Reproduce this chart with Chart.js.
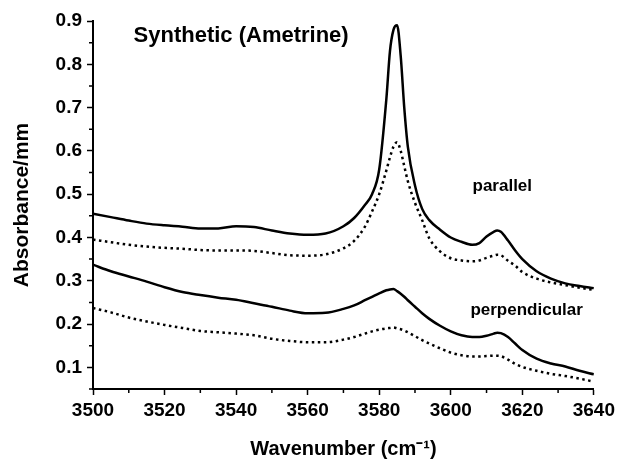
<!DOCTYPE html>
<html>
<head>
<meta charset="utf-8">
<script src="https://cdn.jsdelivr.net/npm/chart.js@4.4.1/dist/chart.umd.min.js"></script>
<style>
  html, body { margin: 0; padding: 0; background: #fff; }
  #wrap { width: 619px; height: 461px; }
</style>
</head>
<body>
<div id="wrap"><canvas id="chart1"></canvas></div>
<script>
// wavenumber (cm-1)
var wavenumbers = [3500, 3505, 3510, 3515, 3520, 3525, 3530, 3535, 3540, 3545, 3550, 3555, 3560, 3565, 3570, 3573, 3576, 3578, 3580, 3582, 3583, 3584, 3585, 3586, 3587, 3588, 3590, 3592, 3594, 3597, 3600, 3603, 3606, 3608, 3610, 3612, 3613, 3614, 3616, 3618, 3620, 3624, 3628, 3632, 3636, 3640];

var parallelSolid = [0.455, 0.447, 0.439, 0.432, 0.428, 0.425, 0.421, 0.421, 0.426, 0.424, 0.416, 0.409, 0.406, 0.409, 0.426, 0.445, 0.475, 0.50, 0.557, 0.72, 0.83, 0.88, 0.89, 0.82, 0.70, 0.61, 0.52, 0.466, 0.44, 0.418, 0.40, 0.39, 0.383, 0.387, 0.402, 0.413, 0.416, 0.413, 0.393, 0.37, 0.35, 0.322, 0.305, 0.294, 0.288, 0.283];
var parallelDotted = [0.395, 0.389, 0.383, 0.379, 0.376, 0.374, 0.371, 0.370, 0.370, 0.369, 0.364, 0.359, 0.358, 0.361, 0.375, 0.392, 0.425, 0.46, 0.50, 0.555, 0.585, 0.61, 0.62, 0.60, 0.565, 0.53, 0.48, 0.44, 0.398, 0.368, 0.352, 0.347, 0.345, 0.347, 0.353, 0.358, 0.360, 0.359, 0.346, 0.335, 0.32, 0.305, 0.296, 0.290, 0.284, 0.279];
var perpSolid = [0.337, 0.322, 0.310, 0.298, 0.285, 0.274, 0.267, 0.261, 0.256, 0.248, 0.240, 0.231, 0.225, 0.226, 0.235, 0.243, 0.255, 0.263, 0.271, 0.278, 0.280, 0.281, 0.276, 0.270, 0.263, 0.255, 0.240, 0.225, 0.212, 0.196, 0.183, 0.174, 0.170, 0.170, 0.173, 0.178, 0.180, 0.179, 0.170, 0.155, 0.140, 0.120, 0.109, 0.102, 0.092, 0.084];
var perpDotted = [0.237, 0.227, 0.215, 0.206, 0.198, 0.191, 0.184, 0.181, 0.178, 0.174, 0.166, 0.161, 0.158, 0.158, 0.164, 0.170, 0.178, 0.183, 0.187, 0.190, 0.191, 0.192, 0.190, 0.188, 0.185, 0.181, 0.172, 0.163, 0.155, 0.144, 0.134, 0.128, 0.125, 0.125, 0.126, 0.127, 0.127, 0.126, 0.118, 0.108, 0.101, 0.092, 0.085, 0.080, 0.074, 0.067];

var xTicks = [3500, 3520, 3540, 3560, 3580, 3600, 3620, 3640];
var yTicks = [0.1, 0.2, 0.3, 0.4, 0.5, 0.6, 0.7, 0.8, 0.9];

var labels = [
    { text: "Synthetic (Ametrine)", x: 3541.4, y: 0.866, size: 22 },
    { text: "parallel", x: 3614.4, y: 0.518, size: 17 },
    { text: "perpendicular", x: 3621.2, y: 0.231, size: 17 }
];

var FONT = "'Liberation Sans', Arial, sans-serif";

function pts(ys) {
    return wavenumbers.map(function (x, i) { return { x: x, y: ys[i] }; });
}

// short minor ticks between the major ones + text labels
var extras = {
    id: 'extras',
    afterDraw: function (chart) {
        var ctx = chart.ctx;
        var xs = chart.scales.x, ys = chart.scales.y;
        ctx.save();
        ctx.strokeStyle = '#000';
        ctx.lineWidth = 1.5;
        ctx.beginPath();
        for (var i = 0; i < xTicks.length - 1; i++) {
            var px = xs.getPixelForValue((xTicks[i] + xTicks[i + 1]) / 2);
            ctx.moveTo(px, ys.bottom);
            ctx.lineTo(px, ys.bottom + 4);
        }
        var yMinor = [0.05].concat(yTicks.slice(0, -1).map(function (v, i) { return (v + yTicks[i + 1]) / 2; }));
        yMinor.forEach(function (v) {
            var py = ys.getPixelForValue(v);
            ctx.moveTo(xs.left, py);
            ctx.lineTo(xs.left - 4, py);
        });
        ctx.stroke();

        ctx.fillStyle = '#000';
        ctx.textAlign = 'center';
        ctx.textBaseline = 'middle';
        labels.forEach(function (l) {
            ctx.font = 'bold ' + l.size + 'px ' + FONT;
            ctx.fillText(l.text, xs.getPixelForValue(l.x), ys.getPixelForValue(l.y));
        });
        ctx.restore();
    }
};

var chart1 = document.getElementById('chart1').getContext('2d');
var myChart1 = new Chart(chart1, {
    type: 'line',
    data: {
        datasets: [
            { label: 'parallel', data: pts(parallelSolid), borderColor: '#000', borderWidth: 2.5 },
            { label: 'parallel (dotted)', data: pts(parallelDotted), borderColor: '#000', borderWidth: 2.5, borderDash: [2.5, 3.5] },
            { label: 'perpendicular', data: pts(perpSolid), borderColor: '#000', borderWidth: 2.5 },
            { label: 'perpendicular (dotted)', data: pts(perpDotted), borderColor: '#000', borderWidth: 2.5, borderDash: [2.5, 3.5] }
        ]
    },
    options: {
        responsive: true,
        maintainAspectRatio: false,
        animation: false,
        layout: { padding: { left: 5, right: 24, top: 21, bottom: 0 } },
        elements: {
            point: { radius: 0 },
            line: { cubicInterpolationMode: 'monotone' }
        },
        plugins: {
            legend: { display: false },
            tooltip: { enabled: false }
        },
        scales: {
            x: {
                type: 'linear',
                min: 3500,
                max: 3640,
                afterBuildTicks: function (s) { s.ticks = xTicks.map(function (v) { return { value: v }; }); },
                afterFit: function (s) { s.height = 72; },
                border: { color: '#000', width: 2 },
                grid: { drawOnChartArea: false, tickLength: 6, tickColor: '#000', tickWidth: 1.5 },
                ticks: {
                    color: '#000',
                    padding: 4,
                    maxRotation: 0,
                    font: { family: FONT, size: 19, weight: 'bold' },
                    callback: function (v) { return String(v); }
                },
                title: {
                    display: true,
                    text: 'Wavenumber (cm\u207B\u00B9)',
                    color: '#000',
                    padding: { top: 0, bottom: 0 },
                    font: { family: FONT, size: 20, weight: 'bold' }
                }
            },
            y: {
                min: 0.05,
                max: 0.9,
                afterBuildTicks: function (s) { s.ticks = yTicks.map(function (v) { return { value: v }; }); },
                afterFit: function (s) { s.width = 88; },
                border: { color: '#000', width: 2 },
                grid: { drawOnChartArea: false, tickLength: 6, tickColor: '#000', tickWidth: 1.5 },
                ticks: {
                    color: '#000',
                    padding: 5,
                    font: { family: FONT, size: 19, weight: 'bold' },
                    callback: function (v) { return v.toFixed(1); }
                },
                title: {
                    display: true,
                    text: 'Absorbance/mm',
                    color: '#000',
                    padding: { top: 5, bottom: 0 },
                    font: { family: FONT, size: 21, weight: 'bold' }
                }
            }
        }
    },
    plugins: [extras]
});
</script>
</body>
</html>
